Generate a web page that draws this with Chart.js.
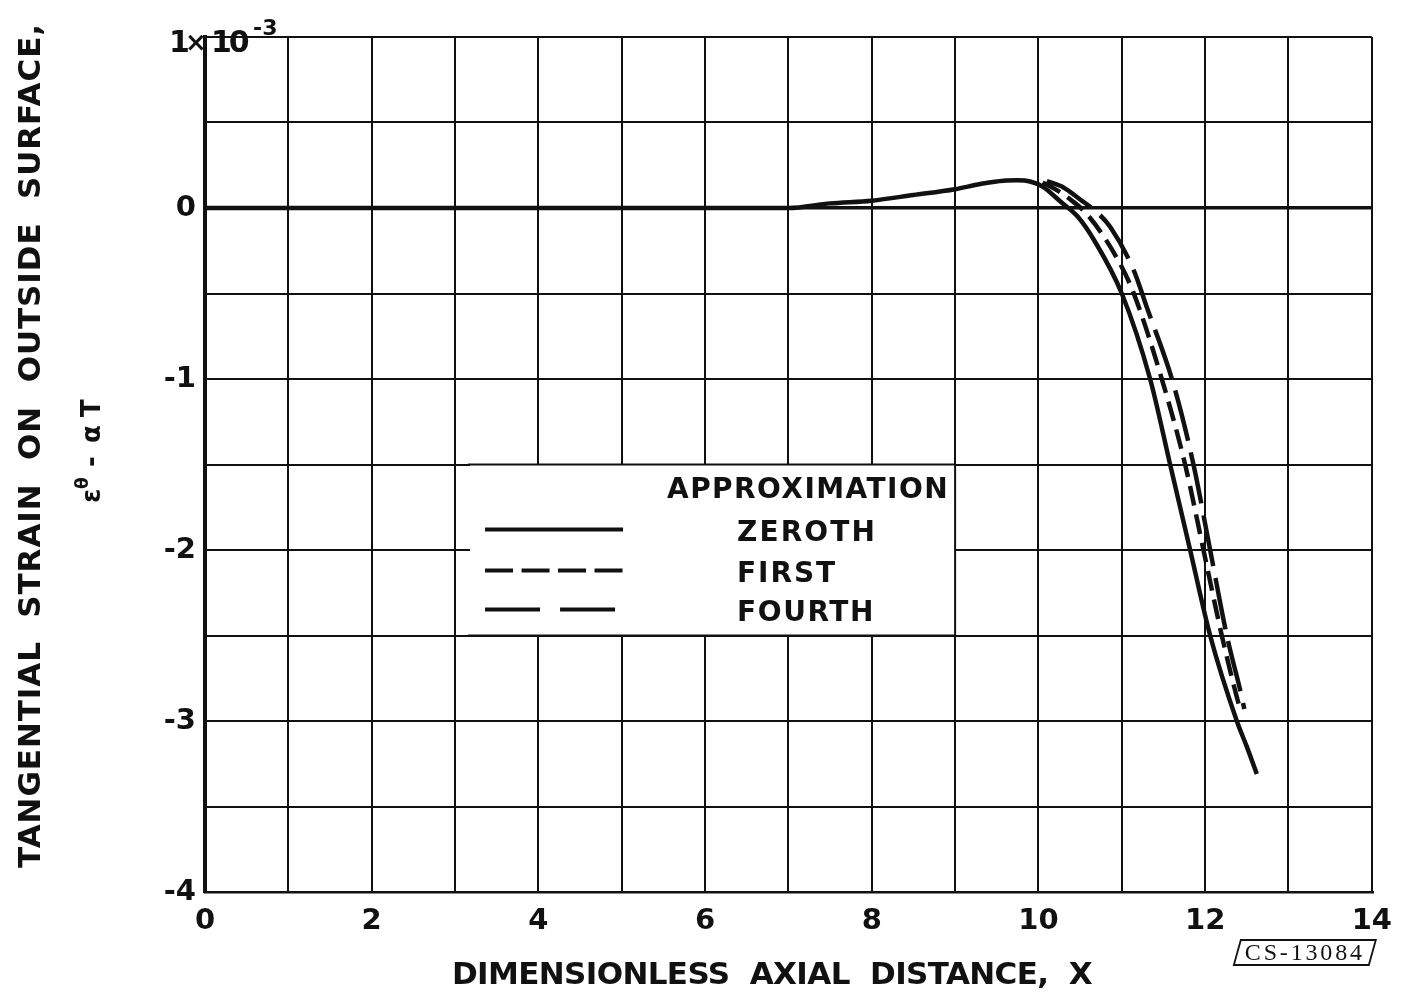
<!DOCTYPE html>
<html>
<head>
<meta charset="utf-8">
<script src="https://cdn.jsdelivr.net/npm/chart.js@4/dist/chart.umd.min.js"></script>
<style>
  html, body { margin: 0; padding: 0; background: #fff; }
  #wrap { width: 1404px; height: 992px; }
</style>
</head>
<body>
<div id="wrap"><canvas id="chart" width="1404" height="992"></canvas></div>
<script>
  // values (strain in units of 1e-3)
  const zerothX = [0, 2, 4, 6, 7, 7.5, 8, 8.5, 9, 9.3, 9.58, 9.75, 9.9, 10.05, 10.27, 10.47, 10.67, 11.0, 11.34, 11.58, 11.82, 12.06, 12.38, 12.5, 12.62];
  const zerothY = [0, 0, 0, 0, 0, 0.027, 0.043, 0.076, 0.11, 0.14, 0.16, 0.162, 0.155, 0.125, 0.035, -0.05, -0.19, -0.5, -1.0, -1.5, -2.0, -2.5, -3.0, -3.15, -3.31];
  const firstX = [10.05, 10.2, 10.39, 10.59, 10.95, 11.14, 11.48, 11.76, 11.98, 12.2, 12.38, 12.42];
  const firstY = [0.15, 0.11, 0.047, -0.04, -0.3, -0.495, -1.0, -1.5, -2.0, -2.5, -2.86, -2.93];
  const fourthX = [10.1, 10.3, 10.5, 10.69, 10.86, 11.14, 11.3, 11.62, 11.86, 12.06, 12.26, 12.44, 12.47];
  const fourthY = [0.158, 0.12, 0.05, -0.02, -0.11, -0.36, -0.58, -1.03, -1.5, -2.0, -2.5, -2.86, -2.93];

  const seriesNames = ["ZEROTH", "FIRST", "FOURTH"];
  const xLabelValues = [0, 2, 4, 6, 8, 10, 12, 14];
  const yLabelValues = [-4, -3, -2, -1, 0];
  const xTitle = "DIMENSIONLESS  AXIAL  DISTANCE,  X";
  const yTitle = "TANGENTIAL  STRAIN  ON  OUTSIDE  SURFACE,";
  const legendTitle = "APPROXIMATION";
  const stampText = "CS-13084";

  const FONT = '"DejaVu Sans", sans-serif';
  const INK = "#111";

  const pts = (xs, ys) => xs.map((x, i) => ({ x, y: ys[i] }));

  // draw text stretched to a given width with letter spacing
  function fitText(ctx, text, x, y, width) {
    ctx.letterSpacing = "0px";
    const w = ctx.measureText(text).width;
    const sp = (width - w) / text.length;
    ctx.letterSpacing = sp + "px";
    ctx.fillText(text, x, y);
    ctx.letterSpacing = "0px";
  }

  const legendDash = [[], [28, 8.5], [55, 20]];

  const decor = {
    id: "decor",
    beforeDraw(chart) {
      const { ctx } = chart;
      ctx.save();
      ctx.fillStyle = "#fff";
      ctx.fillRect(0, 0, chart.width, chart.height);
      ctx.restore();
    },
    beforeDatasetsDraw(chart) {
      const { ctx, scales } = chart;
      const L = scales.x.getPixelForValue(3.18);
      const R = scales.x.getPixelForValue(9);
      const T = scales.y.getPixelForValue(-1.5);
      const B = scales.y.getPixelForValue(-2.5);
      ctx.save();
      ctx.fillStyle = "#fff";
      ctx.fillRect(L, T, R - L, B - T);
      // box edges sit on the grid lines
      ctx.strokeStyle = INK;
      ctx.lineWidth = 2;
      ctx.beginPath();
      ctx.moveTo(L - 2, T); ctx.lineTo(R, T); ctx.lineTo(R, B); ctx.lineTo(L - 2, B);
      ctx.stroke();

      ctx.fillStyle = INK;
      ctx.font = "bold 28px " + FONT;
      ctx.textBaseline = "alphabetic";
      fitText(ctx, legendTitle, L + 197, T + 33, 282);
      const rows = [65, 106, 145];
      const widths = [140, 100, 138];
      seriesNames.forEach((name, i) => {
        ctx.lineWidth = 4;
        ctx.setLineDash(legendDash[i]);
        ctx.beginPath();
        ctx.moveTo(L + 15, T + rows[i]);
        ctx.lineTo(L + 153, T + rows[i]);
        ctx.stroke();
        ctx.setLineDash([]);
        fitText(ctx, name, L + 267, T + rows[i] + 11, widths[i]);
      });
      ctx.restore();
    },
    afterDraw(chart) {
      const { ctx, chartArea: ca, scales } = chart;
      ctx.save();
      ctx.fillStyle = INK;
      ctx.textBaseline = "alphabetic";
      ctx.textAlign = "left";

      // top tick label 1 x 10^-3
      const y1 = scales.y.getPixelForValue(1);
      ctx.font = "bold 30px " + FONT;
      ctx.fillText("1", ca.left - 36, y1 + 15);
      ctx.font = "bold 26px " + FONT;
      ctx.fillText("×", ca.left - 20, y1 + 14);
      ctx.font = "bold 30px " + FONT;
      ctx.letterSpacing = "-3px";
      ctx.fillText("10", ca.left + 6, y1 + 15);
      ctx.letterSpacing = "0px";
      ctx.font = "bold 22px " + FONT;
      ctx.fillText("-3", ca.left + 48, y1 - 2);

      // x axis title
      ctx.font = "bold 31px " + FONT;
      fitText(ctx, xTitle, 452, 984, 640);

      // y axis title, two lines
      ctx.save();
      ctx.translate(40, 868);
      ctx.rotate(-Math.PI / 2);
      ctx.font = "bold 31px " + FONT;
      fitText(ctx, yTitle, 0, 0, 845);
      ctx.restore();

      ctx.save();
      ctx.translate(100, 503);
      ctx.rotate(-Math.PI / 2);
      ctx.font = "bold 26px " + FONT;
      ctx.fillText("ε", 0, 0);
      ctx.font = "bold 17px " + FONT;
      ctx.fillText("θ", 14, -12);
      ctx.font = "bold 26px " + FONT;
      ctx.fillText("-", 36, 0);
      ctx.fillText("α", 60, 0);
      ctx.fillText("T", 86, 0);
      ctx.restore();

      // report stamp
      const sx = ca.right - 138, sy = 940;
      ctx.lineWidth = 1.8;
      ctx.strokeStyle = INK;
      ctx.beginPath();
      ctx.moveTo(sx + 7, sy);
      ctx.lineTo(sx + 142, sy);
      ctx.lineTo(sx + 135, sy + 25);
      ctx.lineTo(sx, sy + 25);
      ctx.closePath();
      ctx.stroke();
      ctx.font = "24px 'Liberation Serif', serif";
      fitText(ctx, stampText, sx + 11, sy + 20, 120);
      ctx.restore();
    }
  };

  const lineStyle = { borderColor: INK, borderWidth: 4.5, pointRadius: 0, fill: false, cubicInterpolationMode: "monotone" };

  new Chart(document.getElementById("chart"), {
    type: "line",
    data: {
      datasets: [
        { label: seriesNames[0], data: pts(zerothX, zerothY), ...lineStyle },
        { label: seriesNames[1], data: pts(firstX, firstY), ...lineStyle, borderDash: [20, 9] },
        { label: seriesNames[2], data: pts(fourthX, fourthY), ...lineStyle, borderDash: [52, 12] }
      ]
    },
    options: {
      responsive: false,
      animation: false,
      layout: { padding: { top: 37, right: 27, left: 0, bottom: 0 } },
      plugins: { legend: { display: false }, tooltip: { enabled: false } },
      scales: {
        x: {
          type: "linear",
          min: 0,
          max: 14,
          afterFit: (s) => { s.height = 100; },
          grid: {
            color: INK,
            lineWidth: (c) => (c.tick && c.tick.value === 0 ? 4 : 2),
            drawTicks: false
          },
          border: { display: true, color: INK, width: 2.5 },
          ticks: {
            stepSize: 1,
            padding: 12,
            color: INK,
            font: { family: FONT, weight: "bold", size: 29 },
            maxRotation: 0,
            autoSkip: false,
            callback: (v) => (xLabelValues.includes(v) ? String(v) : "")
          }
        },
        y: {
          type: "linear",
          min: -4,
          max: 1,
          afterFit: (s) => { s.width = 205; },
          grid: {
            color: INK,
            lineWidth: (c) => (c.tick && c.tick.value === 0 ? 3.5 : 2),
            drawTicks: false
          },
          border: { display: true, color: INK, width: 4 },
          ticks: {
            stepSize: 0.5,
            padding: 9,
            color: INK,
            font: { family: FONT, weight: "bold", size: 29 },
            autoSkip: false,
            callback: (v) => (yLabelValues.includes(v) ? String(v) : "")
          }
        }
      }
    },
    plugins: [decor]
  });
</script>
</body>
</html>
